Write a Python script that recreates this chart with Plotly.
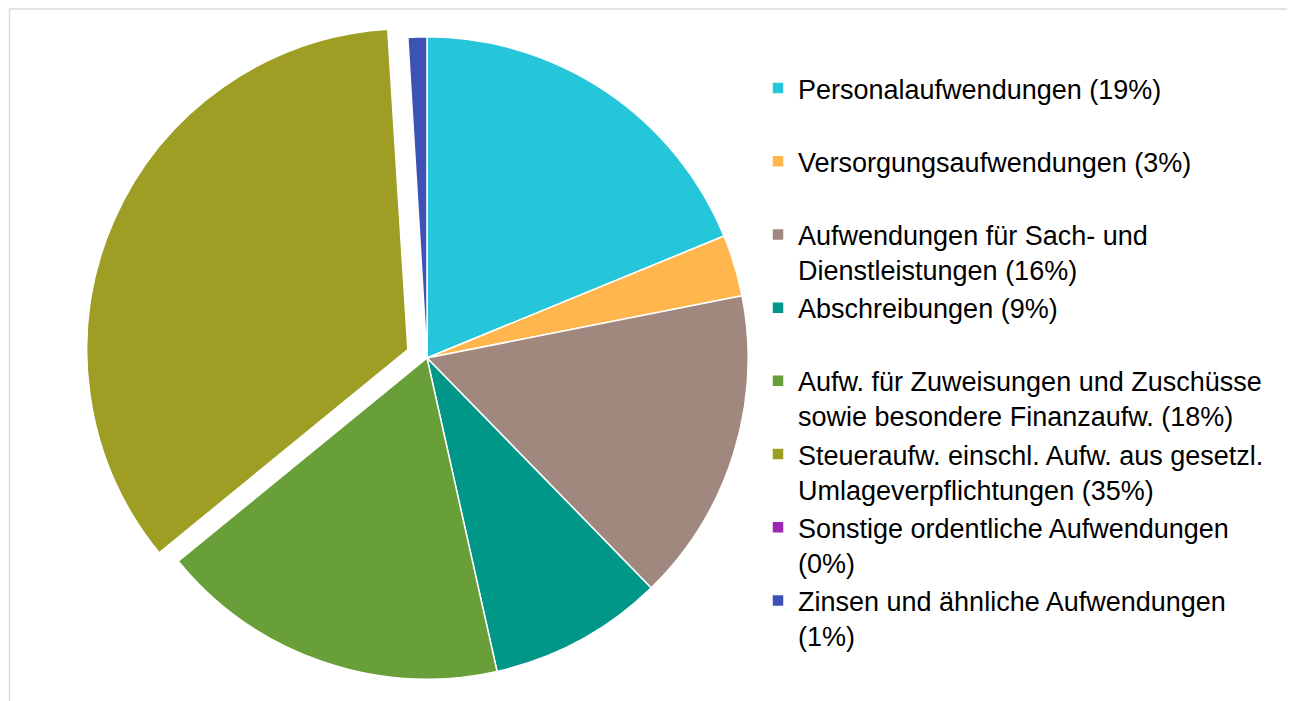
import plotly.graph_objects as go

categories = [
    "Personalaufwendungen (19%)",
    "Versorgungsaufwendungen (3%)",
    "Aufwendungen für Sach- und<br>Dienstleistungen (16%)",
    "Abschreibungen (9%)",
    "Aufw. für Zuweisungen und Zuschüsse<br>sowie besondere Finanzaufw. (18%)",
    "Steueraufw. einschl. Aufw. aus gesetzl.<br>Umlageverpflichtungen (35%)",
    "Sonstige ordentliche Aufwendungen<br>(0%)",
    "Zinsen und ähnliche Aufwendungen<br>(1%)",
]
values = [18.8, 3.1, 15.8, 8.8, 17.6, 34.9, 0.05, 0.95]
colors = ["#26C6DA", "#FFB74D", "#A1887F", "#009688", "#689F38", "#9E9D24", "#9C27B0", "#3F51B5"]
pulls = [0, 0, 0, 0, 0, 0.065, 0, 0]

# pad single-line labels so every legend entry occupies two lines (even spacing)
labels = [c if "<br>" in c else c + "<br>\u00a0" for c in categories]

# page body has an 8px margin, so the figure is sized to fit the window
W, H = 1287, 693
cx, cy, half = 419, 350, 342  # pie centre / half-size of domain in px

fig = go.Figure(go.Pie(
    labels=labels,
    values=values,
    sort=False,
    direction="clockwise",
    rotation=0,
    pull=pulls,
    marker=dict(colors=colors, line=dict(color="white", width=1.5)),
    textinfo="none",
    hoverinfo="label+value",
    domain=dict(x=[(cx - half) / W, (cx + half) / W],
                y=[(H - cy - half) / H, (H - cy + half) / H]),
))

fig.update_layout(
    width=W, height=H,
    margin=dict(l=0, r=0, t=0, b=0),
    paper_bgcolor="white",
    font=dict(family="Liberation Sans, Arial, sans-serif", size=27, color="#000000"),
    legend=dict(
        x=750 / W, y=1 - 56 / H, xanchor="left", yanchor="top",
        valign="top",
        font=dict(size=27),
        itemclick=False,
    ),
    shapes=[dict(
        type="rect", xref="paper", yref="paper",
        x0=1.5 / W, x1=1281.5 / W, y0=-0.1, y1=1 - 1.0 / H,
        line=dict(color="#D9D9D9", width=1.5),
    )],
)

fig.write_html("out.html")
